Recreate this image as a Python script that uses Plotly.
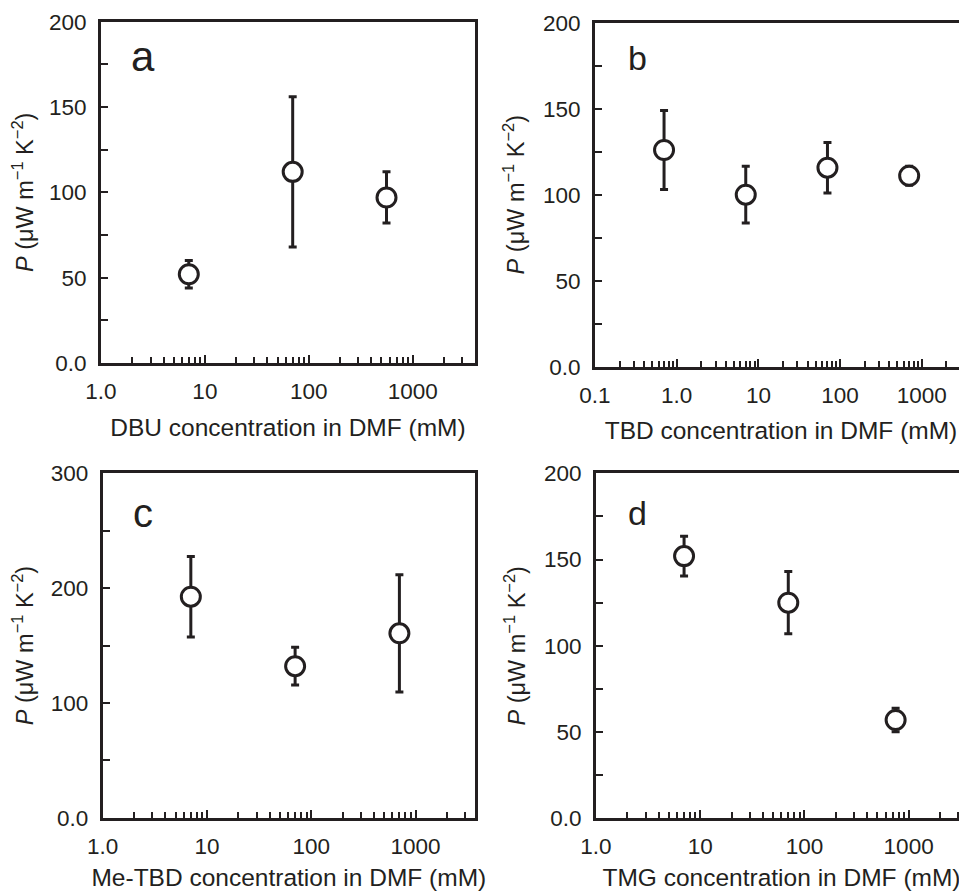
import plotly.graph_objects as go

# ---- data ----
conc_a = [7, 70, 560]
p_a = [52, 112, 97]
err_a = [8, 44, 15]

conc_b = [0.7, 7, 70, 700]
p_b = [126, 100, 115.7, 111]
err_b = [23, 16.5, 14.7, 5.5]

conc_c = [7, 70, 700]
p_c = [192.5, 132, 160.6]
err_c = [35, 16.5, 51]

conc_d = [7, 70, 750]
p_d = [152, 125, 57]
err_d = [11.5, 18, 6.8]

xtitles = ["DBU concentration in DMF (mM)", "TBD concentration in DMF (mM)",
           "Me-TBD concentration in DMF (mM)", "TMG concentration in DMF (mM)"]
letters = ["a", "b", "c", "d"]
ytitle = "<i>P</i> (μW m<sup>−1</sup> K<sup>−2</sup>)"

# page has an 8px body margin: build the figure 8px smaller and shift coordinates
OFF = 8
W, H = 967 - OFF, 891 - OFF
INK = "#231f20"
FONT = "Liberation Sans, Arial, Helvetica, sans-serif"

fig = go.Figure()

panels = [
    dict(x=conc_a, y=p_a, e=err_a, xpx=(101, 475), ypx=(21.7, 363), xr=(0, 3.6), ymax=200, ystep=50, ylab=[0, 50, 100, 150, 200], lo=1),
    dict(x=conc_b, y=p_b, e=err_b, xpx=(595, 967), ypx=(22.7, 366.7), xr=(-1, 3.553), ymax=200, ystep=50, ylab=[0, 50, 100, 150, 200], lo=0.1),
    dict(x=conc_c, y=p_c, e=err_c, xpx=(102.7, 475), ypx=(473.3, 817.7), xr=(0, 3.57), ymax=300, ystep=100, ylab=[0, 100, 200, 300], lo=1),
    dict(x=conc_d, y=p_d, e=err_d, xpx=(596, 967), ypx=(473.3, 818.3), xr=(0, 3.56), ymax=200, ystep=50, ylab=[0, 50, 100, 150, 200], lo=1),
]

letter_pos = [(143, 57, 42), (637, 58, 34), (143, 513, 40), (637, 513, 34)]


def px_x(v):
    return (v - OFF) / W


def px_y(v):
    return (H - (v - OFF)) / H


for i, p in enumerate(panels):
    n = "" if i == 0 else str(i + 1)
    fig.add_trace(go.Scatter(
        x=p["x"], y=p["y"], mode="markers",
        xaxis="x" + n, yaxis="y" + n,
        marker=dict(symbol="circle", size=19, color="white", line=dict(color=INK, width=3)),
        error_y=dict(type="data", array=p["e"], visible=True, color=INK, thickness=3, width=4),
        showlegend=False, cliponaxis=False,
    ))
    lo = p["lo"]
    majors = []
    minors = []
    v = lo
    while v < 10 ** p["xr"][1]:
        majors.append(v)
        for k in range(2, 10):
            if k * v < 10 ** p["xr"][1]:
                minors.append(k * v)
        v *= 10
    ticktext = []
    for m in majors:
        if m == 0.1:
            ticktext.append("0.1")
        elif m == 1:
            ticktext.append("1.0")
        else:
            ticktext.append(str(int(m)))
    ymin_minor = [y + p["ystep"] / 2 for y in p["ylab"][:-1]]
    x0, x1 = p["xpx"]
    yt, yb = p["ypx"]
    xa = dict(
        type="log", range=list(p["xr"]), domain=[px_x(x0), min(1.0, px_x(x1))],
        anchor="y" + n, automargin=False,
        tickmode="array", tickvals=majors, ticktext=ticktext,
        ticks="inside", ticklen=8, tickwidth=2, tickcolor=INK,
        minor=dict(tickmode="array", tickvals=minors, ticks="inside", ticklen=6, tickwidth=2, tickcolor=INK),
        showline=True, linewidth=3, linecolor=INK, mirror=True,
        showgrid=False, zeroline=False,
        tickfont=dict(family=FONT, size=22.5, color=INK),
        ticklabelstandoff=6,
        title=dict(text=xtitles[i], font=dict(family=FONT, size=24.5, color=INK), standoff=16),
    )
    ya = dict(
        range=[0, p["ymax"]], domain=[px_y(yb), px_y(yt)],
        anchor="x" + n, automargin=False,
        tickmode="array", tickvals=p["ylab"],
        ticktext=["0.0" if t == 0 else str(t) for t in p["ylab"]],
        ticks="inside", ticklen=7, tickwidth=2, tickcolor=INK,
        minor=dict(tickmode="array", tickvals=ymin_minor, ticks="inside", ticklen=7, tickwidth=2, tickcolor=INK),
        showline=True, linewidth=3, linecolor=INK, mirror=(i % 2 == 0),
        showgrid=False, zeroline=False,
        tickfont=dict(family=FONT, size=22.5, color=INK),
        ticklabelstandoff=7,
        title=dict(text=ytitle, font=dict(family=FONT, size=23.5, color=INK), standoff=12),
    )
    fig.layout["xaxis" + n] = xa
    fig.layout["yaxis" + n] = ya
    lx, ly, ls = letter_pos[i]
    fig.add_annotation(
        text=letters[i], x=px_x(lx), y=px_y(ly), xref="paper", yref="paper",
        showarrow=False, xanchor="center", yanchor="middle",
        font=dict(family=FONT, size=ls, color=INK),
    )

fig.update_layout(
    width=W, height=H,
    margin=dict(l=0, r=0, t=0, b=0),
    paper_bgcolor="white", plot_bgcolor="white",
    font=dict(family=FONT, color=INK),
)

fig.write_html("out.html")
